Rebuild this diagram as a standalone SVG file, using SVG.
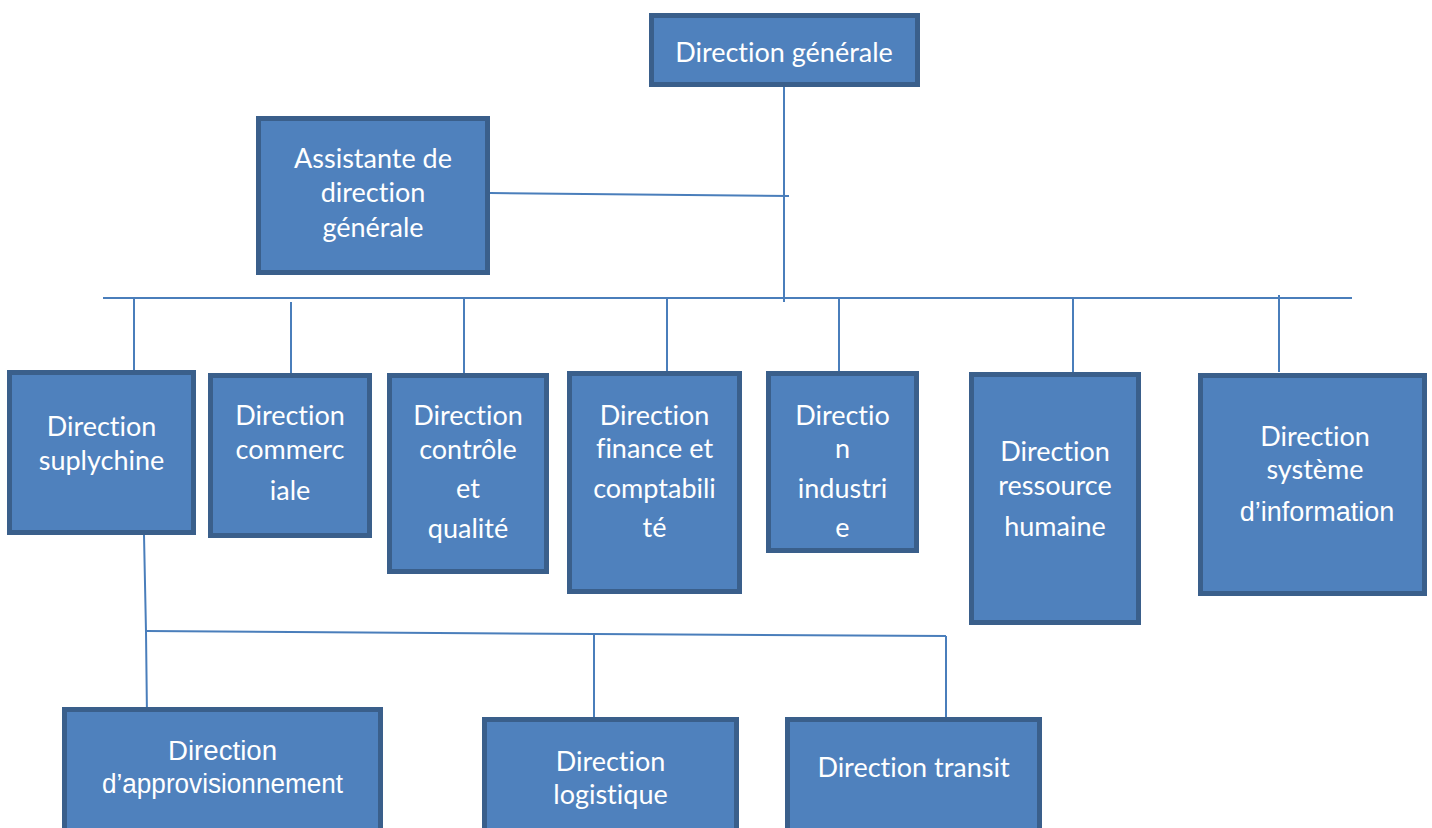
<svg xmlns="http://www.w3.org/2000/svg" width="1432" height="828" viewBox="0 0 1432 828">
<style>
.box{fill:#4F81BD;stroke:#3A5F8B;stroke-width:5}
.t{font-family:Lato,"Open Sans",sans-serif;font-size:27px;fill:#FFFFFF;text-anchor:middle;font-variant-ligatures:none;font-feature-settings:"liga" 0,"dlig" 0}
.a{font-family:"Liberation Sans",Arial,sans-serif;font-size:27px;fill:#FFFFFF;text-anchor:middle}
.c{fill:none;stroke:#4A7EBB;stroke-width:2}
</style>
<rect width="1432" height="828" fill="#FFFFFF"/>
<g id="connectors">
<line class="c" x1="784" y1="87" x2="784" y2="302"/>
<line class="c" x1="490" y1="193" x2="789" y2="196"/>
<line class="c" x1="103" y1="298" x2="1352" y2="298"/>
<line class="c" x1="134" y1="298" x2="134" y2="371"/>
<line class="c" x1="291" y1="302" x2="291" y2="374"/>
<line class="c" x1="464" y1="298" x2="464" y2="374"/>
<line class="c" x1="667" y1="298" x2="667" y2="372"/>
<line class="c" x1="839" y1="298" x2="839" y2="372"/>
<line class="c" x1="1073" y1="298" x2="1073" y2="373"/>
<line class="c" x1="1279" y1="295" x2="1279" y2="372"/>
<polyline class="c" points="144,535 146,632 147,717"/>
<polyline class="c" points="146,631 594,634 946,636"/>
<line class="c" x1="594" y1="634" x2="594" y2="718"/>
<line class="c" x1="946" y1="636" x2="946" y2="718"/>
</g>
<g id="n-dg">
<rect class="box" x="651.5" y="15.5" width="266" height="69"/>
<text class="t" x="784" y="62">Direction générale</text>
</g>
<g id="n-assistante">
<rect class="box" x="258.5" y="118.5" width="229" height="154"/>
<text class="t" x="373" y="168">Assistante de</text>
<text class="t" x="373" y="202">direction</text>
<text class="t" x="373" y="237">générale</text>
</g>
<g id="n-suplychine">
<rect class="box" x="9.5" y="372.5" width="184" height="160"/>
<text class="t" x="101.5" y="436">Direction</text>
<text class="t" x="101.5" y="470">suplychine</text>
</g>
<g id="n-commerciale">
<rect class="box" x="210.5" y="375.5" width="159" height="160"/>
<text class="t" x="290" y="425">Direction</text>
<text class="t" x="290" y="459">commerc</text>
<text class="t" x="290" y="500">iale</text>
</g>
<g id="n-controle">
<rect class="box" x="389.5" y="375.5" width="157" height="196"/>
<text class="t" x="468" y="425">Direction</text>
<text class="t" x="468" y="459">contrôle</text>
<text class="t" x="468" y="498">et</text>
<text class="t" x="468" y="538">qualité</text>
</g>
<g id="n-finance">
<rect class="box" x="569.5" y="373.5" width="170" height="218"/>
<text class="t" x="654.5" y="425">Direction</text>
<text class="t" x="654.5" y="458">finance et</text>
<text class="t" x="654.5" y="498">comptabili</text>
<text class="t" x="654.5" y="537">té</text>
</g>
<g id="n-industrie">
<rect class="box" x="768.5" y="373.5" width="148" height="177"/>
<text class="t" x="842.5" y="425">Directio</text>
<text class="t" x="842.5" y="458">n</text>
<text class="t" x="842.5" y="498">industri</text>
<text class="t" x="842.5" y="537">e</text>
</g>
<g id="n-rh">
<rect class="box" x="971.5" y="374.5" width="167" height="248"/>
<text class="t" x="1055" y="461">Direction</text>
<text class="t" x="1055" y="495">ressource</text>
<text class="t" x="1055" y="536">humaine</text>
</g>
<g id="n-si">
<rect class="box" x="1200.5" y="375.5" width="224" height="218"/>
<text class="t" x="1315" y="446">Direction</text>
<text class="t" x="1315" y="479">système</text>
<text class="a" x="1317" y="521" font-size="28">d’information</text>
</g>
<g id="n-approvisionnement">
<rect class="box" x="64.5" y="709.5" width="316" height="140"/>
<text class="a" x="222.5" y="760" textLength="109" lengthAdjust="spacingAndGlyphs">Direction</text>
<text class="a" x="222.5" y="793" textLength="241" lengthAdjust="spacingAndGlyphs">d’approvisionnement</text>
</g>
<g id="n-logistique">
<rect class="box" x="484.5" y="719.5" width="252" height="140"/>
<text class="t" x="610.5" y="771">Direction</text>
<text class="t" x="610.5" y="804">logistique</text>
</g>
<g id="n-transit">
<rect class="box" x="787.5" y="719.5" width="252" height="140"/>
<text class="t" x="913.5" y="777">Direction transit</text>
</g>
</svg>
